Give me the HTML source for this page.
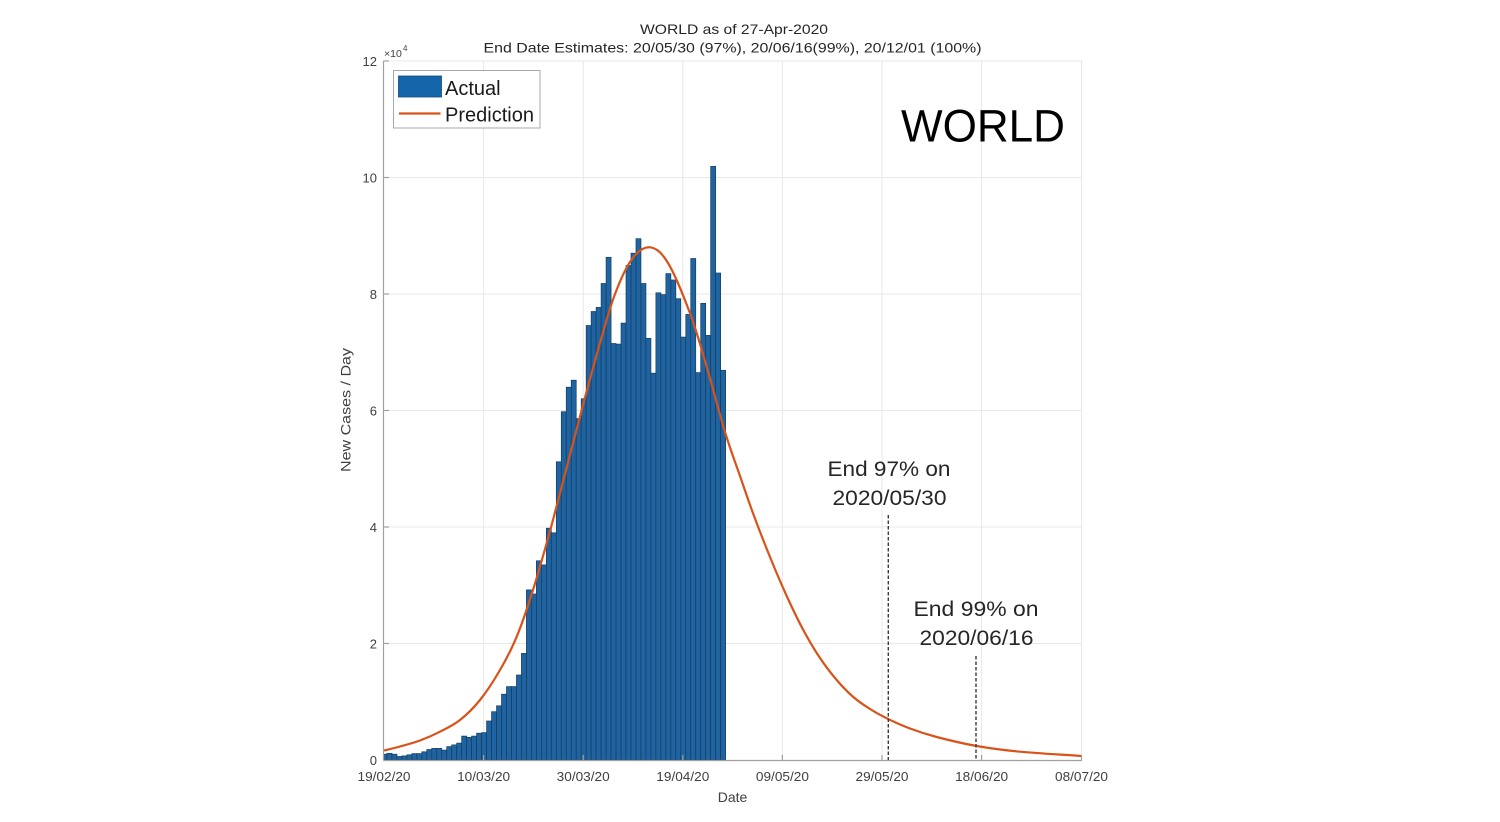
<!DOCTYPE html>
<html>
<head>
<meta charset="utf-8">
<style>
  html, body { margin: 0; padding: 0; background: #ffffff; }
  svg { display: block; }
  text { font-family: "Liberation Sans", Arial, sans-serif; }
</style>
</head>
<body>
<svg width="1500" height="822" viewBox="0 0 1500 822" xmlns="http://www.w3.org/2000/svg">
  <rect x="0" y="0" width="1500" height="822" fill="#ffffff"/>

  <text x="734" y="34" font-size="14" fill="#262626" text-anchor="middle" textLength="188" lengthAdjust="spacingAndGlyphs">WORLD as of 27-Apr-2020</text>
  <text x="732.5" y="52.5" font-size="14" fill="#262626" text-anchor="middle" textLength="498" lengthAdjust="spacingAndGlyphs">End Date Estimates: 20/05/30 (97%), 20/06/16(99%), 20/12/01 (100%)</text>

  <g stroke="#e8e8e8" stroke-width="1" fill="none">
    <line x1="384" y1="643.5" x2="1082" y2="643.5"/>
    <line x1="384" y1="527" x2="1082" y2="527"/>
    <line x1="384" y1="410.5" x2="1082" y2="410.5"/>
    <line x1="384" y1="294" x2="1082" y2="294"/>
    <line x1="384" y1="177.5" x2="1082" y2="177.5"/>
    <line x1="384" y1="61" x2="1082" y2="61"/>
    <line x1="483.6" y1="61" x2="483.6" y2="760"/>
    <line x1="583.2" y1="61" x2="583.2" y2="760"/>
    <line x1="682.8" y1="61" x2="682.8" y2="760"/>
    <line x1="782.4" y1="61" x2="782.4" y2="760"/>
    <line x1="882" y1="61" x2="882" y2="760"/>
    <line x1="981.6" y1="61" x2="981.6" y2="760"/>
    <line x1="1081.5" y1="61" x2="1081.5" y2="760"/>
  </g>

  <defs>
    <clipPath id="plotclip"><rect x="384" y="55" width="700" height="706"/></clipPath>
  </defs>
  <g clip-path="url(#plotclip)" fill="#1f64a0" stroke="#143c60" stroke-width="0.7">
    <rect x="382.0" y="754.2" width="4.98" height="5.8"/>
    <rect x="386.98" y="753.3" width="4.98" height="6.7"/>
    <rect x="391.96" y="754.2" width="4.98" height="5.8"/>
    <rect x="396.94" y="756.5" width="4.98" height="3.5"/>
    <rect x="401.92" y="755.9" width="4.98" height="4.1"/>
    <rect x="406.9" y="754.8" width="4.98" height="5.2"/>
    <rect x="411.88" y="753.6" width="4.98" height="6.4"/>
    <rect x="416.86" y="753.6" width="4.98" height="6.4"/>
    <rect x="421.84" y="751.8" width="4.98" height="8.2"/>
    <rect x="426.82" y="749.5" width="4.98" height="10.5"/>
    <rect x="431.8" y="748.4" width="4.98" height="11.6"/>
    <rect x="436.78" y="748.4" width="4.98" height="11.6"/>
    <rect x="441.76" y="750.1" width="4.98" height="9.9"/>
    <rect x="446.74" y="746.6" width="4.98" height="13.4"/>
    <rect x="451.72" y="744.9" width="4.98" height="15.1"/>
    <rect x="456.7" y="743.1" width="4.98" height="16.9"/>
    <rect x="461.68" y="736.1" width="4.98" height="23.9"/>
    <rect x="466.66" y="737.3" width="4.98" height="22.7"/>
    <rect x="471.64" y="736.1" width="4.98" height="23.9"/>
    <rect x="476.62" y="733.2" width="4.98" height="26.8"/>
    <rect x="481.6" y="732.6" width="4.98" height="27.4"/>
    <rect x="486.58" y="721" width="4.98" height="39"/>
    <rect x="491.56" y="711.7" width="4.98" height="48.3"/>
    <rect x="496.54" y="705.8" width="4.98" height="54.2"/>
    <rect x="501.52" y="694.2" width="4.98" height="65.8"/>
    <rect x="506.5" y="686.6" width="4.98" height="73.4"/>
    <rect x="511.48" y="686.6" width="4.98" height="73.4"/>
    <rect x="516.46" y="675" width="4.98" height="85"/>
    <rect x="521.44" y="653.4" width="4.98" height="106.6"/>
    <rect x="526.42" y="589.9" width="4.98" height="170.1"/>
    <rect x="531.4" y="594" width="4.98" height="166"/>
    <rect x="536.38" y="560.8" width="4.98" height="199.2"/>
    <rect x="541.36" y="564.9" width="4.98" height="195.1"/>
    <rect x="546.34" y="528.2" width="4.98" height="231.8"/>
    <rect x="551.32" y="532.8" width="4.98" height="227.2"/>
    <rect x="556.3" y="461.8" width="4.98" height="298.2"/>
    <rect x="561.28" y="411.7" width="4.98" height="348.3"/>
    <rect x="566.26" y="387.2" width="4.98" height="372.8"/>
    <rect x="571.24" y="380.2" width="4.98" height="379.8"/>
    <rect x="576.22" y="418.7" width="4.98" height="341.3"/>
    <rect x="581.2" y="398.8" width="4.98" height="361.2"/>
    <rect x="586.18" y="325.5" width="4.98" height="434.5"/>
    <rect x="591.16" y="311.5" width="4.98" height="448.5"/>
    <rect x="596.14" y="307.4" width="4.98" height="452.6"/>
    <rect x="601.12" y="283.5" width="4.98" height="476.5"/>
    <rect x="606.1" y="257.3" width="4.98" height="502.7"/>
    <rect x="611.08" y="343.5" width="4.98" height="416.5"/>
    <rect x="616.06" y="344.1" width="4.98" height="415.9"/>
    <rect x="621.04" y="323.1" width="4.98" height="436.9"/>
    <rect x="626.02" y="265.5" width="4.98" height="494.5"/>
    <rect x="631.0" y="253.2" width="4.98" height="506.8"/>
    <rect x="635.98" y="238.7" width="4.98" height="521.3"/>
    <rect x="640.96" y="283.5" width="4.98" height="476.5"/>
    <rect x="645.94" y="338.3" width="4.98" height="421.7"/>
    <rect x="650.92" y="373.2" width="4.98" height="386.8"/>
    <rect x="655.9" y="292.8" width="4.98" height="467.2"/>
    <rect x="660.88" y="294.6" width="4.98" height="465.4"/>
    <rect x="665.86" y="273.6" width="4.98" height="486.4"/>
    <rect x="670.84" y="280" width="4.98" height="480"/>
    <rect x="675.82" y="298.7" width="4.98" height="461.3"/>
    <rect x="680.8" y="337.1" width="4.98" height="422.9"/>
    <rect x="685.78" y="314.4" width="4.98" height="445.6"/>
    <rect x="690.76" y="258.5" width="4.98" height="501.5"/>
    <rect x="695.74" y="372.6" width="4.98" height="387.4"/>
    <rect x="700.72" y="303.3" width="4.98" height="456.7"/>
    <rect x="705.7" y="335.4" width="4.98" height="424.6"/>
    <rect x="710.68" y="166.4" width="4.98" height="593.6"/>
    <rect x="715.66" y="273" width="4.98" height="487"/>
    <rect x="720.64" y="370.3" width="4.98" height="389.7"/>
  </g>

  <path fill="none" stroke="#D95319" stroke-width="2.2" stroke-linejoin="round" d="M384,750.5 C389.33,749.17 394,748.17 400,746.5 C406,744.83 413.33,742.97 420,740.5 C426.67,738.03 433.33,735.12 440,731.7 C446.67,728.28 453.33,725.28 460,720 C466.67,714.72 473.33,708.33 480,700 C486.67,691.67 493.88,680.55 500,670 C506.12,659.45 511.2,650.03 516.7,636.7 C522.2,623.37 527.45,607.62 533,590 C538.55,572.38 544.5,551 550,531 C555.5,511 560.5,491 566,470 C571.5,449 577.33,426.17 583,405 C588.67,383.83 594.67,361.5 600,343 C605.33,324.5 609.67,308 615,294 C620.33,280 626.17,266.78 632,259 C637.83,251.22 644,246.63 650,247.3 C656,247.97 661.33,252 668,263 C674.67,274 683.55,296.02 690,313.3 C696.45,330.58 700.87,346.92 706.7,366.7 C712.53,386.48 719.45,413.78 725,432 C730.55,450.22 735.28,462.33 740,476 C744.72,489.67 748.3,500.5 753.3,514 C758.3,527.5 764.43,543.33 770,557 C775.57,570.67 781.15,583.83 786.7,596 C792.25,608.17 797.75,619.67 803.3,630 C808.85,640.33 814.43,649.67 820,658 C825.57,666.33 831.15,673.5 836.7,680 C842.25,686.5 847.75,692.17 853.3,697 C858.85,701.83 864.43,705.45 870,709 C875.57,712.55 880.03,715.05 886.7,718.3 C893.37,721.55 901.67,725.38 910,728.5 C918.33,731.62 925.58,734.08 936.7,737 C947.82,739.92 962.82,743.55 976.7,746 C990.58,748.45 1002.5,750.03 1020,751.7 C1037.5,753.37 1061.13,754.57 1081.7,756"/>

  <g stroke="#3a3a3a" stroke-width="1.4" stroke-dasharray="3.5,2">
    <line x1="888.3" y1="515" x2="888.3" y2="760"/>
    <line x1="976" y1="656" x2="976" y2="760"/>
  </g>

  <g stroke="#a0a0a0" stroke-width="1.2" fill="none">
    <line x1="383.5" y1="61" x2="383.5" y2="760.5"/>
    <line x1="383.5" y1="760.5" x2="1082" y2="760.5"/>
    <line x1="383.5" y1="643.5" x2="389" y2="643.5"/>
    <line x1="383.5" y1="527" x2="389" y2="527"/>
    <line x1="383.5" y1="410.5" x2="389" y2="410.5"/>
    <line x1="383.5" y1="294" x2="389" y2="294"/>
    <line x1="383.5" y1="177.5" x2="389" y2="177.5"/>
    <line x1="383.5" y1="61" x2="389" y2="61"/>
    <line x1="483.6" y1="760.5" x2="483.6" y2="755"/>
    <line x1="583.2" y1="760.5" x2="583.2" y2="755"/>
    <line x1="682.8" y1="760.5" x2="682.8" y2="755"/>
    <line x1="782.4" y1="760.5" x2="782.4" y2="755"/>
    <line x1="882" y1="760.5" x2="882" y2="755"/>
    <line x1="981.6" y1="760.5" x2="981.6" y2="755"/>
    <line x1="1081.5" y1="760.5" x2="1081.5" y2="755"/>
  </g>

  <g font-size="13" fill="#404040" text-anchor="end">
    <text x="377" y="765">0</text>
    <text x="377" y="648.5">2</text>
    <text x="377" y="532">4</text>
    <text x="377" y="415.5">6</text>
    <text x="377" y="299">8</text>
    <text x="377" y="182.5">10</text>
    <text x="377" y="66">12</text>
  </g>
  <text x="384" y="57" font-size="10.5" fill="#404040">×10</text>
  <text x="403" y="51" font-size="8" fill="#404040">4</text>

  <g font-size="13" fill="#404040" text-anchor="middle">
    <text x="384" y="781" textLength="53" lengthAdjust="spacingAndGlyphs">19/02/20</text>
    <text x="483.6" y="781" textLength="53" lengthAdjust="spacingAndGlyphs">10/03/20</text>
    <text x="583.2" y="781" textLength="53" lengthAdjust="spacingAndGlyphs">30/03/20</text>
    <text x="682.8" y="781" textLength="53" lengthAdjust="spacingAndGlyphs">19/04/20</text>
    <text x="782.4" y="781" textLength="53" lengthAdjust="spacingAndGlyphs">09/05/20</text>
    <text x="882" y="781" textLength="53" lengthAdjust="spacingAndGlyphs">29/05/20</text>
    <text x="981.6" y="781" textLength="53" lengthAdjust="spacingAndGlyphs">18/06/20</text>
    <text x="1081.5" y="781" textLength="53" lengthAdjust="spacingAndGlyphs">08/07/20</text>
  </g>

  <text x="732.5" y="802" font-size="14" fill="#404040" text-anchor="middle">Date</text>
  <text x="0" y="0" font-size="14" fill="#404040" text-anchor="middle" transform="translate(350.5,410) rotate(-90)" textLength="124" lengthAdjust="spacingAndGlyphs">New Cases / Day</text>

  <rect x="393.5" y="70.5" width="146.5" height="57.5" fill="#ffffff" stroke="#a8a8a8" stroke-width="1"/>
  <rect x="398.5" y="76" width="43" height="21" fill="#1565aa" stroke="#0f4a80" stroke-width="0.8"/>
  <text x="445" y="95" font-size="20" fill="#1a1a1a">Actual</text>
  <line x1="399" y1="113.5" x2="440.5" y2="113.5" stroke="#D95319" stroke-width="2.2"/>
  <text x="445" y="121.5" font-size="20" fill="#1a1a1a">Prediction</text>

  <text x="901" y="141.5" font-size="45" fill="#000000" textLength="164" lengthAdjust="spacingAndGlyphs">WORLD</text>

  <g font-size="21.5" fill="#262626" text-anchor="middle">
    <text x="889" y="476" textLength="123" lengthAdjust="spacingAndGlyphs">End 97% on</text>
    <text x="889.5" y="505" textLength="114" lengthAdjust="spacingAndGlyphs">2020/05/30</text>
    <text x="976" y="616" textLength="125" lengthAdjust="spacingAndGlyphs">End 99% on</text>
    <text x="976.5" y="645" textLength="114" lengthAdjust="spacingAndGlyphs">2020/06/16</text>
  </g>
</svg>
</body>
</html>
